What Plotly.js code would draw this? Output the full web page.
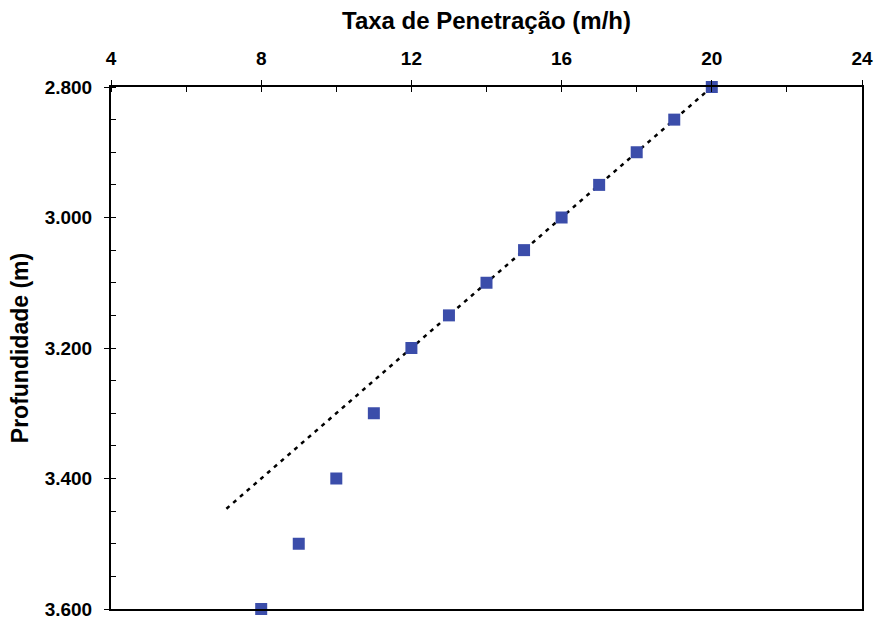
<!DOCTYPE html>
<html>
<head>
<meta charset="utf-8">
<script src="https://cdn.plot.ly/plotly-3.0.1.min.js"></script>
<style>html,body{margin:0;padding:0;background:#fff;}#chart{width:875px;height:619px;}</style>
</head>
<body>
<div id="chart"></div>
<script>
const rate = [20, 19, 18, 17, 16, 15, 14, 13, 12, 11, 10, 9, 8];
const depth = [2800, 2850, 2900, 2950, 3000, 3050, 3100, 3150, 3200, 3300, 3400, 3500, 3600];
const trendRate = [20, 7];
const trendDepth = [2800, 3450];
const xTicks = [4, 8, 12, 16, 20, 24];
const yTicks = [2800, 3000, 3200, 3400, 3600];
const yTickText = ["2.800", "3.000", "3.200", "3.400", "3.600"];

const font = {family: "Liberation Sans, Arial, sans-serif", color: "#000"};

const traces = [
  {x: trendRate, y: trendDepth, mode: "lines", type: "scatter",
   line: {color: "#000", width: 2.5, dash: "4px,5px"}, hoverinfo: "skip"},
  {x: rate, y: depth, mode: "markers", type: "scatter", cliponaxis: false,
   marker: {symbol: "square", size: 12, color: "#3B4DAA"}}
];

const layout = {
  width: 875, height: 619,
  margin: {l: 111, r: 13, t: 87, b: 10},
  paper_bgcolor: "#fff", plot_bgcolor: "#fff",
  showlegend: false,
  xaxis: {
    side: "top", range: [4, 24], tickvals: xTicks, ticktext: xTicks.map(String),
    ticks: "outside", ticklen: 5, tickwidth: 1, tickcolor: "#000",
    ticklabelstandoff: 7, ticklabeloverflow: "allow",
    minor: {dtick: 2, tick0: 4, ticks: "inside", ticklen: 5, tickcolor: "#000"},
    showline: true, linecolor: "#000", linewidth: 2, mirror: true,
    showgrid: false, zeroline: false,
    tickfont: Object.assign({size: 19, weight: "bold"}, font),
    title: {text: "<b>Taxa de Penetração (m/h)</b>", font: Object.assign({size: 24}, font), standoff: 12}
  },
  yaxis: {
    range: [3600, 2800], tickvals: yTicks, ticktext: yTickText,
    ticks: "outside", ticklen: 5, tickwidth: 1, tickcolor: "#000",
    ticklabelstandoff: 8, ticklabeloverflow: "allow",
    minor: {dtick: 50, tick0: 2800, ticks: "inside", ticklen: 5, tickcolor: "#000"},
    showline: true, linecolor: "#000", linewidth: 2, mirror: true,
    showgrid: false, zeroline: false,
    tickfont: Object.assign({size: 19, weight: "bold"}, font),
    title: {text: "<b>Profundidade (m)</b>", font: Object.assign({size: 23}, font), standoff: 10}
  }
};

Plotly.newPlot("chart", traces, layout, {displayModeBar: false, staticPlot: true});
</script>
</body>
</html>
